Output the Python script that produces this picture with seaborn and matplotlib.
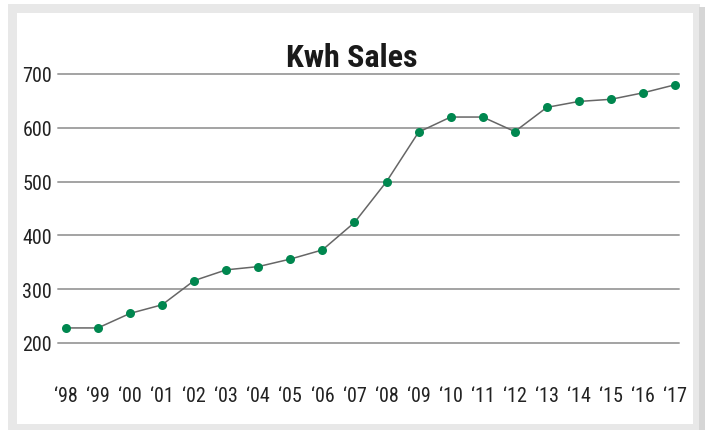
import matplotlib
matplotlib.use("Agg")
import matplotlib.pyplot as plt
from matplotlib import font_manager
from matplotlib.patches import Rectangle
import seaborn as sns
import pandas as pd

# ---- data ----
years = ["\u201898", "\u201899", "\u201800", "\u201801", "\u201802", "\u201803", "\u201804",
         "\u201805", "\u201806", "\u201807", "\u201808", "\u201809", "\u201810", "\u201811",
         "\u201812", "\u201813", "\u201814", "\u201815", "\u201816", "\u201817"]
kwh_sales = [228, 228, 255, 271, 316, 336, 342, 356, 373, 424,
             500, 592, 620, 620, 593, 638, 649, 653, 665, 680]
y_ticks = [200, 300, 400, 500, 600, 700]
title = "Kwh Sales"

df = pd.DataFrame({"idx": range(len(years)), "year": years, "sales": kwh_sales})

sns.set_theme(style="white")

def pick_font(cands):
    for c in cands:
        try:
            font_manager.findfont(c, fallback_to_default=False)
            return c
        except Exception:
            pass
    return "DejaVu Sans"

fam = pick_font(["Liberation Sans Narrow", "Roboto Condensed", "Liberation Sans"])
plt.rcParams["font.family"] = [fam, "DejaVu Sans"]

W, H = 705, 431
fig = plt.figure(figsize=(W / 100, H / 100), dpi=100)
fig.patch.set_facecolor("white")

# frame background
fig.patches.append(Rectangle((8 / W, 0), (692 / W), 1 - 5 / H, transform=fig.transFigure,
                             facecolor="#e8e8e8", edgecolor="none", zorder=-3))
fig.patches.append(Rectangle((699 / W, 0), (6 / W), 1 - 8 / H, transform=fig.transFigure,
                             facecolor="#d6d6d6", edgecolor="none", zorder=-3))
fig.patches.append(Rectangle((17 / W, 6 / H), (676 / W), 1 - 20 / H, transform=fig.transFigure,
                             facecolor="white", edgecolor="none", zorder=-2))

ax = fig.add_axes([58.5 / W, 1 - 344 / H, (679 - 58.5) / W, (344 - 75) / H])
ax.set_facecolor("none")

sns.lineplot(data=df, x="idx", y="sales", ax=ax, color="#666666", linewidth=1.1,
             marker="o", markersize=6.5, markerfacecolor="#00874f",
             markeredgecolor="#00874f", markeredgewidth=0, clip_on=False, zorder=3)

ax.set_xlim(-0.23, 19.12)
ax.set_ylim(200, 700)
ax.set_yticks(y_ticks)
ax.set_yticklabels([str(v) for v in y_ticks])
ax.set_xticks(df["idx"])
ax.set_xticklabels(years)
ax.set_xlabel("")
ax.set_ylabel("")
for s in ax.spines.values():
    s.set_visible(False)
ax.grid(False)
for v in y_ticks:
    ax.axhline(v, color="#a3a3a3", linewidth=1.4, zorder=1, clip_on=False)

ax.tick_params(axis="y", length=0, pad=4.5, labelsize=14.5, labelcolor="#222222")
ax.tick_params(axis="x", length=0, pad=31, labelsize=14.5, labelcolor="#222222")

fig.text(352 / W, 1 - 67 / H, title, ha="center", va="baseline",
         fontsize=23, fontweight="bold", color="#1a1a1a")

fig.savefig("out.png", dpi=100)
